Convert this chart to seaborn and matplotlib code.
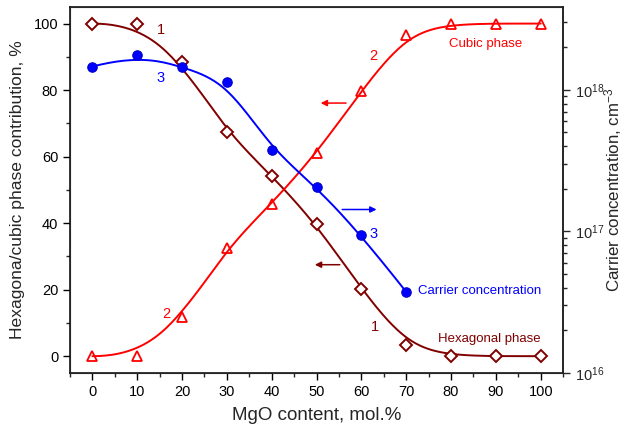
import numpy as np
import pandas as pd
import matplotlib
matplotlib.use('Agg')
import matplotlib.pyplot as plt
import seaborn as sns

# Data
mgo = [0, 10, 20, 30, 40, 50, 60, 70, 80, 90, 100]
hexagonal = [100, 100, 88.3, 67.3, 54.3, 39.6, 20.1, 3.5, 0, 0, 0]
cubic = [0, 0, 11.8, 32.5, 45.9, 61.0, 79.8, 96.6, 100, 100, 100]
mgo_carrier = [0, 10, 20, 30, 40, 50, 60, 70]
carrier = [1.46e18, 1.76e18, 1.46e18, 1.13e18, 3.77e17, 2.07e17, 9.4e16, 3.73e16]

DARK_RED = '#800000'
RED = '#ff0000'
BLUE = '#0000ff'

sns.set_style('ticks')
plt.rcParams['font.family'] = ['Liberation Sans', 'DejaVu Sans']
plt.rcParams['mathtext.fontset'] = 'custom'
plt.rcParams['mathtext.rm'] = 'Liberation Sans'
plt.rcParams['mathtext.it'] = 'Liberation Sans:italic'
plt.rcParams['mathtext.bf'] = 'Liberation Sans:bold'


def bspline(x, y, n=300):
    """Clamped cubic B-spline using the data points as control points."""
    P = np.column_stack([x, y]).astype(float)
    m = len(P)
    k = 3
    knots = np.concatenate([np.zeros(k), np.arange(m - k + 1), np.full(k, m - k)])
    t = np.linspace(0, m - k, n)
    t[-1] -= 1e-9
    # Cox-de Boor recursion
    B = np.array([(t >= knots[i]) & (t < knots[i + 1]) for i in range(len(knots) - 1)], float).T
    for d in range(1, k + 1):
        Bn = np.zeros((n, len(knots) - 1 - d))
        for i in range(len(knots) - 1 - d):
            den1 = knots[i + d] - knots[i]
            den2 = knots[i + d + 1] - knots[i + 1]
            if den1 > 0:
                Bn[:, i] += (t - knots[i]) / den1 * B[:, i]
            if den2 > 0:
                Bn[:, i] += (knots[i + d + 1] - t) / den2 * B[:, i + 1]
        B = Bn
    C = B @ P
    return C[:, 0], C[:, 1]


fig, ax = plt.subplots(figsize=(6.25, 4.34), dpi=100)
fig.subplots_adjust(left=0.112, right=0.901, top=0.984, bottom=0.141)

# smooth curves
xs, ys = bspline(mgo, hexagonal)
sns.lineplot(x=xs, y=ys, ax=ax, color=DARK_RED, linewidth=1.4, sort=False)
xs, ys = bspline(mgo, cubic)
sns.lineplot(x=xs, y=ys, ax=ax, color=RED, linewidth=1.4, sort=False)

ax.plot(mgo, hexagonal, linestyle='', marker='D', markersize=6, mfc='white',
        mec=DARK_RED, mew=1.4, zorder=5)
ax.plot(mgo, cubic, linestyle='', marker='^', markersize=7.5, mfc='none',
        mec=RED, mew=1.3, zorder=5)

ax.set_xlim(-5, 105)
ax.set_ylim(-5, 105)
ax.set_xticks(np.arange(0, 101, 10))
ax.set_xticks(np.arange(-5, 106, 5), minor=True)
ax.set_yticks(np.arange(0, 101, 20))
ax.set_yticks(np.arange(0, 101, 10), minor=True)
ax.tick_params(which='major', direction='out', length=5, width=1, labelsize=10.5, colors='black')
ax.tick_params(which='minor', direction='out', length=3, width=1)
ax.set_xlabel('MgO content, mol.%', fontsize=13.5, labelpad=6)
ax.set_ylabel('Hexagona/cubic phase contribution, %', fontsize=12.6, labelpad=6)
for s in ax.spines.values():
    s.set_linewidth(1.1)
    s.set_color('black')

# right axis: carrier concentration (log)
ax2 = ax.twinx()
ax2.set_yscale('log')
xc, yc = bspline(mgo_carrier, np.log10(carrier))
sns.lineplot(x=xc, y=10 ** yc, ax=ax2, color=BLUE, linewidth=1.4, sort=False)
ax2.plot(mgo_carrier, carrier, linestyle='', marker='o', markersize=6.8,
         mfc=BLUE, mec='#0000c8', mew=0.8, zorder=5)
ax2.set_ylim(1e16, 3.85e18)
ax2.tick_params(which='major', direction='out', length=5, width=1, labelsize=10.5)
ax2.tick_params(which='minor', direction='out', length=3, width=1)
ax2.set_ylabel('Carrier concentration, cm$^{-3}$', fontsize=12.2)
ax2.yaxis.set_label_coords(1.079, 0.5)
ax2.spines['right'].set_linewidth(1.1)

# annotations
ax.text(15.3, 98.1, '1', color=DARK_RED, fontsize=10.5, ha='center', va='center')
ax.text(15.3, 83.7, '3', color=BLUE, fontsize=10.5, ha='center', va='center')
ax.text(62.7, 90.3, '2', color=RED, fontsize=10.5, ha='center', va='center')
ax.text(16.4, 12.6, '2', color=RED, fontsize=10.5, ha='center', va='center')
ax.text(62.7, 36.8, '3', color=BLUE, fontsize=10.5, ha='center', va='center')
ax.text(63.1, 8.8, '1', color=DARK_RED, fontsize=10.5, ha='center', va='center')
ax.text(87.7, 93.8, 'Cubic phase', color=RED, fontsize=9.5, ha='center', va='center')
ax.text(72.7, 19.5, 'Carrier concentration', color=BLUE, fontsize=9.5, ha='left', va='center')
ax.text(88.6, 5.3, 'Hexagonal phase', color=DARK_RED, fontsize=9.5, ha='center', va='center')

arrow = dict(arrowstyle='-|>', lw=1.1, mutation_scale=9)
ax.annotate('', xy=(50.3, 76.1), xytext=(57.2, 76.1), arrowprops=dict(arrow, color=RED))
ax.annotate('', xy=(64.0, 44.1), xytext=(55.1, 44.1), arrowprops=dict(arrow, color=BLUE))
ax.annotate('', xy=(49.0, 27.5), xytext=(55.8, 27.5), arrowprops=dict(arrow, color=DARK_RED))

fig.savefig('out.png', dpi=100)
